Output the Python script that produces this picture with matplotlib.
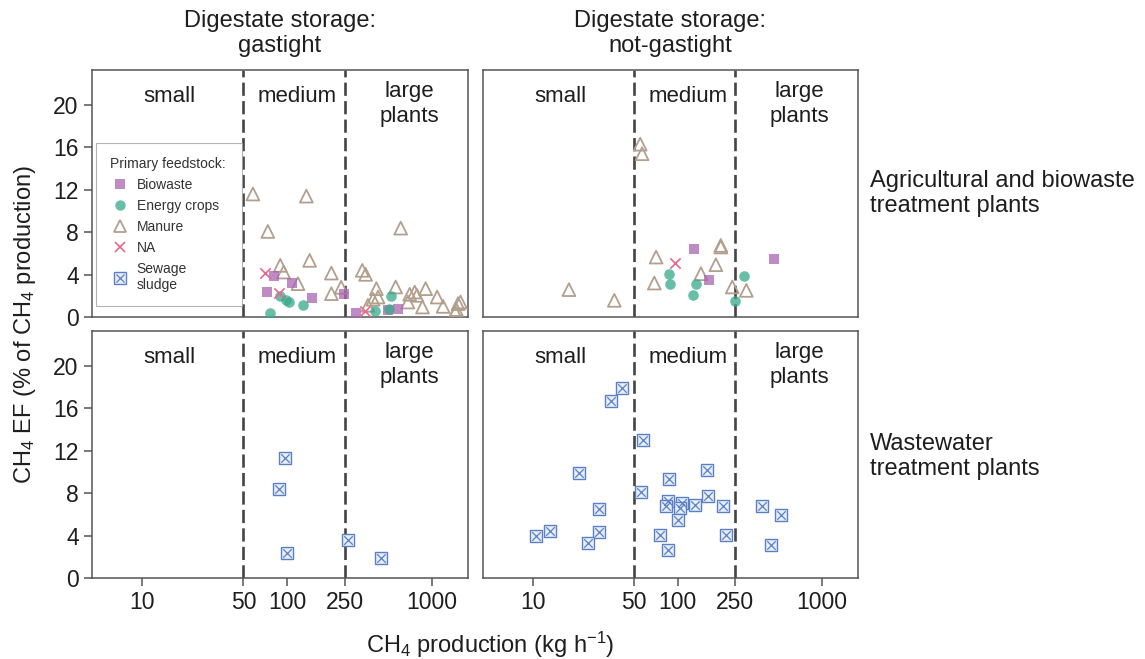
import matplotlib.pyplot as plt
from matplotlib.lines import Line2D
from matplotlib.ticker import NullLocator

plt.rcParams['font.family'] = ['Liberation Sans', 'DejaVu Sans']
plt.rcParams['mathtext.fontset'] = 'custom'
plt.rcParams['mathtext.rm'] = 'Liberation Sans'
plt.rcParams['mathtext.it'] = 'Liberation Sans:italic'

# --- data: CH4 production (kg/h) and CH4 EF (% of production) ---
# agricultural / biowaste plants, gastight digestate storage
gt_bio_x = [80.8, 108, 73, 149, 246.6, 297, 582, 497]
gt_bio_y = [3.83, 3.2, 2.35, 1.79, 2.14, 0.38, 0.79, 0.63]
gt_energy_x = [88.7, 98.6, 102.8, 128.5, 76.5, 524, 505, 402]
gt_energy_y = [1.95, 1.57, 1.41, 1.1, 0.38, 1.95, 0.79, 0.57]
gt_manure_x = [58.1, 135.8, 73.6, 89.7, 94.6, 143, 118.8, 202, 202, 236,
               608, 330, 348, 413, 424, 392, 561, 701, 759, 787,
               903, 682, 859, 1084, 1192, 1513, 1571, 1472, 1446, 361]
gt_manure_y = [11.6, 11.4, 8.07, 4.87, 4.24, 5.34, 3.14, 4.14, 2.2, 2.8,
               8.38, 4.4, 4.02, 2.67, 1.88, 1.67, 2.83, 2.14, 2.35, 2.04,
               2.67, 1.41, 0.94, 1.88, 1.0, 1.26, 1.41, 0.7, 0.47, 1.1]
gt_na_x = [70, 87.7, 343]
gt_na_y = [4.14, 2.26, 0.57]

# agricultural / biowaste plants, not-gastight
ngt_bio_x = [130, 165.5, 464]
ngt_bio_y = [6.44, 3.46, 5.43]
ngt_energy_x = [86.7, 88.7, 135, 127, 288, 250]
ngt_energy_y = [4.02, 3.08, 3.08, 2.04, 3.83, 1.51]
ngt_manure_x = [55.1, 56.8, 17.7, 36.5, 71, 69, 199, 199, 184, 145, 239, 299]
ngt_manure_y = [16.3, 15.4, 2.58, 1.57, 5.65, 3.2, 6.75, 6.6, 4.93, 4.08, 2.83, 2.51]
ngt_na_x = [96.4]
ngt_na_y = [5.08]

# wastewater treatment plants (sewage sludge)
gt_sew_x = [97.3, 87.7, 100.2, 263, 443]
gt_sew_y = [11.34, 8.41, 2.36, 3.62, 1.89]
ngt_sew_x = [41.1, 34.4, 57.9, 20.7, 56, 28.4, 13.0, 10.4, 28.4, 23.9,
             86.7, 158.5, 162, 85.3, 83.2, 107.2, 103.9, 132.4, 207.5, 101.2,
             76, 216, 85.3, 382, 521, 445]
ngt_sew_y = [17.96, 16.7, 13.0, 9.86, 8.13, 6.52, 4.4, 3.93, 4.35, 3.31,
             9.36, 10.17, 7.71, 7.31, 6.83, 7.09, 6.62, 6.9, 6.77, 5.51,
             4.03, 4.09, 2.61, 6.83, 5.98, 3.15]

xticks = [10, 50, 100, 250, 1000]
yticks = [0, 4, 8, 12, 16, 20]

# styles
c_bio = '#a865b0'
c_energy = '#35a98a'
c_manure = '#b39f8d'
c_na = '#e8678a'
c_sew = '#5b80c6'
frame_col = '#555555'
txt_col = '#1e1e1e'


def plot_manure(ax, x, y):
    ax.scatter(x, y, marker='^', s=85, facecolors='none', edgecolors=c_manure,
               linewidths=1.3, zorder=3)


def plot_bio(ax, x, y):
    ax.scatter(x, y, marker='s', s=48, color=c_bio, alpha=0.75, linewidths=0, zorder=4)


def plot_energy(ax, x, y):
    ax.scatter(x, y, marker='o', s=58, color=c_energy, alpha=0.75, linewidths=0, zorder=5)


def plot_na(ax, x, y):
    ax.scatter(x, y, marker='x', s=55, color=c_na, linewidths=1.2, zorder=6)


def plot_sew(ax, x, y):
    ax.scatter(x, y, marker='s', s=75, facecolors='#e8eef8', edgecolors=c_sew,
               linewidths=1.0, zorder=4)
    ax.scatter(x, y, marker='x', s=38, color=c_sew, linewidths=0.9, zorder=5)


def setup_panel(ax, show_x, show_y):
    ax.set_xscale('log')
    ax.set_xlim(4.5, 1770)
    ax.set_ylim(0, 23.3)
    for v in (50, 250):
        ax.axvline(v, color='#444444', lw=1.9, dashes=(5, 2), zorder=2)
    tr = ax.get_xaxis_transform()
    ax.text(15.4, 0.935, 'small', transform=tr, ha='center', va='top', fontsize=16, color=txt_col)
    ax.text(118, 0.935, 'medium', transform=tr, ha='center', va='top', fontsize=16, color=txt_col)
    ax.text(700, 0.955, 'large\nplants', transform=tr, ha='center', va='top', fontsize=16,
            color=txt_col, linespacing=1.25)
    for s in ax.spines.values():
        s.set_color(frame_col)
        s.set_linewidth(1.1)
    ax.xaxis.set_minor_locator(NullLocator())
    ax.tick_params(colors=frame_col, labelcolor=txt_col, labelsize=16.5, length=6, width=1.1)
    if show_x:
        ax.set_xticks(xticks)
        ax.set_xticklabels([str(t) for t in xticks])
    else:
        ax.set_xticks([])
    if show_y:
        ax.set_yticks(yticks)
    else:
        ax.set_yticks([])


fig = plt.figure(figsize=(11.45, 6.59), dpi=100)
ax_tl = fig.add_axes([0.0803, 0.5190, 0.3284, 0.3748])
ax_tr = fig.add_axes([0.4218, 0.5190, 0.3275, 0.3748])
ax_bl = fig.add_axes([0.0803, 0.1229, 0.3284, 0.3748])
ax_br = fig.add_axes([0.4218, 0.1229, 0.3275, 0.3748])

setup_panel(ax_tl, False, True)
setup_panel(ax_tr, False, False)
setup_panel(ax_bl, True, True)
setup_panel(ax_br, True, False)

plot_manure(ax_tl, gt_manure_x, gt_manure_y)
plot_bio(ax_tl, gt_bio_x, gt_bio_y)
plot_energy(ax_tl, gt_energy_x, gt_energy_y)
plot_na(ax_tl, gt_na_x, gt_na_y)

plot_manure(ax_tr, ngt_manure_x, ngt_manure_y)
plot_bio(ax_tr, ngt_bio_x, ngt_bio_y)
plot_energy(ax_tr, ngt_energy_x, ngt_energy_y)
plot_na(ax_tr, ngt_na_x, ngt_na_y)

plot_sew(ax_bl, gt_sew_x, gt_sew_y)
plot_sew(ax_br, ngt_sew_x, ngt_sew_y)

# legend
h_bio = Line2D([], [], ls='none', marker='s', ms=6.8, color=c_bio, alpha=0.75, mew=0)
h_energy = Line2D([], [], ls='none', marker='o', ms=7.5, color=c_energy, alpha=0.75, mew=0)
h_manure = Line2D([], [], ls='none', marker='^', ms=9, mfc='none', mec=c_manure, mew=1.3)
h_na = Line2D([], [], ls='none', marker='x', ms=7.5, color=c_na, mew=1.2)
h_sq = Line2D([], [], ls='none', marker='s', ms=8, mfc='#e8eef8', mec=c_sew, mew=1.0)
h_x = Line2D([], [], ls='none', marker='x', ms=5.5, color=c_sew, mew=0.9)
leg = ax_tl.legend([h_bio, h_energy, h_manure, h_na, (h_sq, h_x)],
                   ['Biowaste', 'Energy crops', 'Manure', 'NA', 'Sewage\nsludge'],
                   title='Primary feedstock:', loc='upper left',
                   bbox_to_anchor=(0.01, 0.065, 0.388, 0.638), mode='expand',
                   borderaxespad=0, fontsize=10, title_fontsize=10, fancybox=False,
                   frameon=True, borderpad=1.0, handlelength=1.5, handletextpad=0.45,
                   labelspacing=0.5, alignment='left')
leg.get_frame().set_edgecolor('#a0a0a0')
leg.get_frame().set_linewidth(0.8)
for t in leg.get_texts():
    t.set_color('#333333')
leg.get_title().set_color('#333333')
leg.set_zorder(10)

# column and row titles
fig.text(0.2445, 0.949, 'Digestate storage:\ngastight', ha='center', va='center',
         fontsize=17, color=txt_col, linespacing=1.2)
fig.text(0.5855, 0.949, 'Digestate storage:\nnot-gastight', ha='center', va='center',
         fontsize=17, color=txt_col, linespacing=1.2)
fig.text(0.76, 0.706, 'Agricultural and biowaste\ntreatment plants', ha='left', va='center',
         fontsize=17, color=txt_col, linespacing=1.2)
fig.text(0.76, 0.307, 'Wastewater\ntreatment plants', ha='left', va='center',
         fontsize=17, color=txt_col, linespacing=1.2)

fig.text(0.022, 0.507, 'CH$_4$ EF (% of CH$_4$ production)', rotation=90, ha='center',
         va='center', fontsize=17, color=txt_col)
fig.text(0.428, 0.021, 'CH$_4$ production (kg h$^{-1}$)', ha='center', va='center',
         fontsize=17, color=txt_col)

fig.savefig('out.png', dpi=100)
